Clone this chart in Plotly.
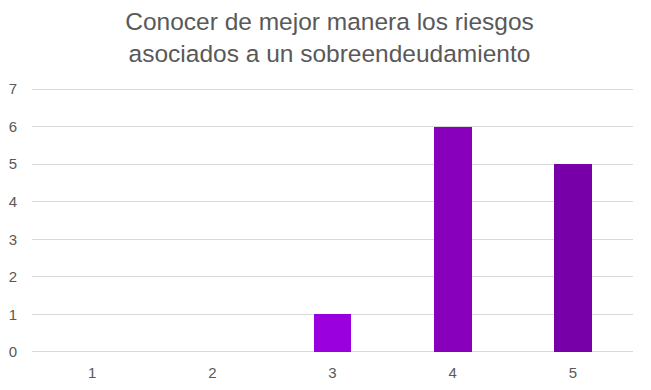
import plotly.graph_objects as go

categories = ["1", "2", "3", "4", "5"]
values = [0, 0, 1, 6, 5]
bar_colors = ["#9900dd", "#9900dd", "#9900dd", "#8800bb", "#7700a8"]
y_ticks = [0, 1, 2, 3, 4, 5, 6, 7]
title_text = "Conocer de mejor manera los riesgos<br>asociados a un sobreendeudamiento"

fig = go.Figure(go.Bar(
    x=categories, y=values, marker=dict(color=bar_colors, line=dict(width=0)),
    width=0.316,
))

# page body has an 8px margin, so the figure is sized to fit the window
fig.update_layout(
    width=643, height=382,
    margin=dict(l=24, r=18, t=80, b=37),
    paper_bgcolor="white", plot_bgcolor="white",
    font=dict(family="Liberation Sans, Arial", color="#595959", size=15),
    title=dict(text=title_text, x=0.5, xanchor="center",
               yref="container", y=1 - 22 / 382, yanchor="top",
               font=dict(size=24.5, color="#595959")),
    showlegend=False,
    bargap=0,
)
fig.update_xaxes(type="category", showgrid=False, showline=False, zeroline=False,
                 ticks="", tickfont=dict(size=15, color="#595959"), ticklabelstandoff=9,
                 automargin=False)
fig.update_yaxes(range=[-0.027, 7.027], tickvals=y_ticks, showgrid=True, gridcolor="#d9d9d9",
                 gridwidth=1, zeroline=False, showline=False, ticks="",
                 tickfont=dict(size=15, color="#595959"), ticklabelstandoff=14,
                 automargin=False)

fig.write_html("out.html")
